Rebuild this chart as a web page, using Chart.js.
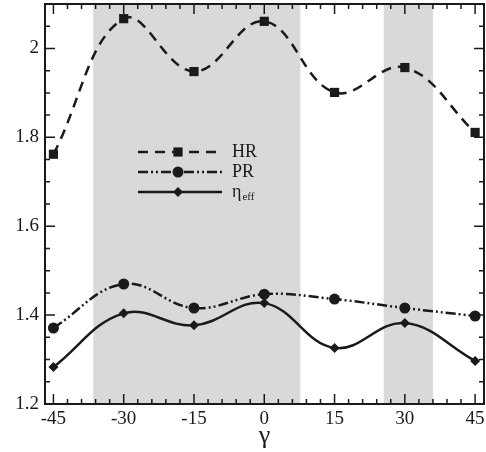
<!DOCTYPE html>
<html><head><meta charset="utf-8">
<style>html,body{margin:0;padding:0;background:#fff}#wrap{width:486px;height:452px}</style>
<script src="https://cdn.jsdelivr.net/npm/chart.js@4.4.1/dist/chart.umd.min.js"></script>
</head><body><div id="wrap"><canvas id="c" width="486" height="452"></canvas></div>
<script>
const gamma = [-45, -30, -15, 0, 15, 30, 45];
const hr  = [1.762, 2.067, 1.948, 2.061, 1.901, 1.957, 1.811];
const pr  = [1.371, 1.470, 1.416, 1.447, 1.436, 1.416, 1.398];
const eta = [1.283, 1.404, 1.377, 1.427, 1.326, 1.382, 1.297];
const xTickLabels = [-45, -30, -15, 0, 15, 30, 45];
const yTickLabels = [1.2, 1.4, 1.6, 1.8, 2.0];
const bands = [[-36.5, 7.7], [25.5, 36]];
const seriesNames = ['HR', 'PR', 'η'];

const toXY = arr => gamma.map((g, i) => ({x: g, y: arr[i]}));
const FONT = "'Liberation Serif', 'Times New Roman', Times, serif";

const decor = {
  id: 'decor',
  beforeDatasetsDraw(chart) {
    const {ctx, chartArea: a, scales: {x, y}} = chart;
    ctx.save();
    ctx.fillStyle = '#d8d9db';
    bands.forEach(([s, e]) => {
      const p1 = x.getPixelForValue(s), p2 = x.getPixelForValue(e);
      ctx.fillRect(p1, a.top, p2 - p1, a.bottom - a.top);
    });
    ctx.restore();
  },
  afterDatasetsDraw(chart) {
    const {ctx, chartArea: a, scales: {x, y}} = chart;
    ctx.save();
    ctx.strokeStyle = '#1a1a1a';
    ctx.lineWidth = 1.5;
    for (let v = -45; v <= 45; v += 3) {
      const px = x.getPixelForValue(v);
      const len = (v % 15 === 0) ? 10 : 5;
      ctx.beginPath();
      ctx.moveTo(px, a.bottom); ctx.lineTo(px, a.bottom - len);
      ctx.moveTo(px, a.top); ctx.lineTo(px, a.top + len);
      ctx.stroke();
    }
    for (let k = 0; k <= 18; k++) {
      const v = 1.2 + k * 0.05;
      const py = y.getPixelForValue(v);
      const len = (k % 4 === 0) ? 10 : 5;
      ctx.beginPath();
      ctx.moveTo(a.left, py); ctx.lineTo(a.left + len, py);
      ctx.moveTo(a.right, py); ctx.lineTo(a.right - len, py);
      ctx.stroke();
    }
    ctx.lineWidth = 2;
    ctx.strokeRect(a.left, a.top, a.right - a.left, a.bottom - a.top);

    const ds = chart.data.datasets;
    const rows = [152, 172, 192];
    const x1 = 138, x2 = 222, xm = 178;
    ds.forEach((d, i) => {
      const yy = rows[i];
      ctx.save();
      ctx.strokeStyle = d.borderColor;
      ctx.lineWidth = d.borderWidth;
      ctx.setLineDash(d.borderDash || []);
      ctx.beginPath(); ctx.moveTo(x1, yy); ctx.lineTo(x2, yy); ctx.stroke();
      ctx.restore();
      Chart.helpers.drawPoint(ctx, {pointStyle: d.pointStyle, radius: d.pointRadius, rotation: 0, borderWidth: 0}, xm, yy);
      ctx.fillStyle = '#1a1a1a';
      ctx.font = '18px ' + FONT;
      ctx.textBaseline = 'middle';
      ctx.textAlign = 'left';
      ctx.fillText(seriesNames[i], 232, yy);
      if (i === 2) {
        const w = ctx.measureText(seriesNames[i]).width;
        ctx.font = '11px ' + FONT;
        ctx.fillText('eff', 232 + w + 1, yy + 5);
      }
    });
    ctx.restore();
  }
};

const common = {
  borderColor: '#1a1a1a', backgroundColor: '#1a1a1a',
  pointBackgroundColor: '#1a1a1a', pointBorderWidth: 0,
  borderWidth: 2.5, tension: 0.4, fill: false, clip: false
};

new Chart(document.getElementById('c'), {
  type: 'line',
  data: {
    datasets: [
      Object.assign({}, common, {label: 'HR', data: toXY(hr), borderDash: [10, 7], pointStyle: 'rect', pointRadius: 6.5}),
      Object.assign({}, common, {label: 'PR', data: toXY(pr), borderDash: [10, 3, 2, 3, 2, 3], pointStyle: 'circle', pointRadius: 5.5}),
      Object.assign({}, common, {label: 'eta', data: toXY(eta), pointStyle: 'rectRot', pointRadius: 5})
    ]
  },
  plugins: [decor],
  options: {
    responsive: false, animation: false,
    layout: {autoPadding: false, padding: {top: 4, right: 2, left: 0, bottom: 0}},
    plugins: {legend: {display: false}, tooltip: {enabled: false}},
    scales: {
      x: {
        type: 'linear', min: -46.8, max: 46.9,
        afterBuildTicks: s => { s.ticks = xTickLabels.map(v => ({value: v})); },
        grid: {display: false, drawTicks: false},
        border: {display: false},
        ticks: {color: '#1a1a1a', font: {family: FONT, size: 19}, padding: 4, maxRotation: 0,
                callback: v => String(v)},
        title: {display: true, text: 'γ', color: '#1a1a1a', font: {family: FONT, size: 26}, padding: {top: 0, bottom: 0}},
        afterFit: s => { s.height = 48; s.paddingLeft = 0; s.paddingRight = 0; }
      },
      y: {
        type: 'linear', min: 1.2, max: 2.1,
        afterBuildTicks: s => { s.ticks = yTickLabels.map(v => ({value: v})); },
        grid: {display: false, drawTicks: false},
        border: {display: false},
        ticks: {color: '#1a1a1a', font: {family: FONT, size: 19}, padding: 6,
                callback: v => String(Math.round(v * 10) / 10)},
        afterFit: s => { s.width = 45; s.paddingTop = 0; s.paddingBottom = 0; }
      }
    }
  }
});
</script></body></html>
